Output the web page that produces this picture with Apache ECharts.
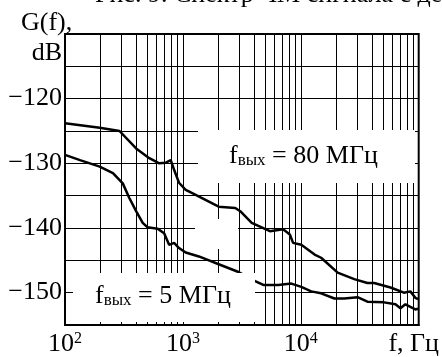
<!DOCTYPE html>
<html>
<head>
	<meta charset="UTF-8">
	<title>G(f)</title>
	<script src="https://cdn.jsdelivr.net/npm/echarts@6/dist/echarts.min.js"></script>
	<style>
		html, body { margin: 0; padding: 0; background: #fff; }
		#chart { width: 442px; height: 357px; }
	</style>
</head>
<body>
	<div id="chart"></div>

	<script type="text/javascript">
		// f_вых = 80 МГц (upper curve)
		var freq80 = [100, 197, 290, 401, 519, 630, 717, 789, 842, 927, 1056, 1200, 2012, 2780, 3064, 3834, 5472, 6430, 7080, 8070, 8600, 10100, 13090, 14870, 20540, 28400, 36730, 41860, 57700, 74800, 84960, 93600, 98700];
		var db80 = [-123.8, -124.5, -125.0, -127.7, -129.2, -130, -129.9, -129.5, -131, -133, -134.1, -134.6, -136.7, -136.9, -137.4, -139.2, -140.5, -140.3, -140.2, -141, -142.3, -142.6, -144.1, -144.6, -146.9, -147.9, -148.5, -148.5, -149.2, -150, -149.8, -150.8, -151];

		// f_вых = 5 МГц (lower curve)
		var freq5 = [100, 134, 197, 255, 309, 352, 401, 456, 502, 609, 693, 764, 842, 927, 1056, 1366, 2012, 2963, 4095, 4810, 6430, 8320, 10100, 12250, 14870, 19280, 23400, 30270, 36730, 50800, 63500, 70000, 77100, 84960, 93600, 98700];
		var db5 = [-128.7, -129.5, -130.5, -131.5, -133.1, -135.4, -137.4, -139.2, -139.9, -140.1, -140.8, -142.6, -142.3, -143.1, -143.8, -144.4, -145.6, -146.8, -148.2, -148.8, -148.8, -148.6, -149.1, -149.8, -150.1, -150.9, -150.9, -150.7, -151.4, -151.5, -151.8, -152.4, -151.8, -152.2, -152.6, -152.5];

		// log grid lines inside each decade
		var minorLines = [200, 300, 400, 500, 600, 700, 800, 900, 2000, 3000, 4000, 5000, 6000, 7000, 8000, 9000, 20000, 30000, 40000, 50000, 60000, 70000, 80000, 90000];

		// x tick labels: base, exponent (last one is the axis name)
		var xBase = ['10', '10', '10', 'f, Гц'];
		var xExp = ['2', '3', '4', ''];
		var yLabels = [-120, -130, -140, -150];

		var FONT = 'Liberation Serif';

		function pairs(xs, ys) {
			return xs.map(function (x, i) { return [x, ys[i]]; });
		}

		var chart = echarts.init(document.getElementById('chart'));

		var option = {
			animation: false,
			backgroundColor: '#fff',
			grid: {
				left: 65, top: 34, right: 21, bottom: 30,
				show: true, borderColor: '#000', borderWidth: 2
			},
			xAxis: {
				type: 'log',
				logBase: 10,
				min: 100,
				max: 100000,
				axisLine: { lineStyle: { color: '#000', width: 2 } },
				axisTick: { inside: true, length: 5, lineStyle: { color: '#000' } },
				splitLine: { show: true, lineStyle: { color: '#000', width: 1 } },
				axisLabel: {
					margin: 6,
					color: '#000',
					fontFamily: FONT,
					formatter: function (v) {
						var i = Math.round(Math.log10(v)) - 2;
						if (i === 3) return '{e|' + xBase[i] + '}';
						return '{n|' + xBase[i] + '}{s|' + xExp[i] + '}';
					},
					rich: {
						n: { fontSize: 26, fontFamily: FONT, color: '#000' },
						s: { fontSize: 16, fontFamily: FONT, color: '#000', verticalAlign: 'top' },
						e: { fontSize: 26, fontFamily: FONT, color: '#000', padding: [0, 10, 0, 0] }
					}
				}
			},
			yAxis: {
				type: 'value',
				min: -155,
				max: -110,
				interval: 5,
				axisLine: { show: true, lineStyle: { color: '#000', width: 2 } },
				axisTick: { show: true, inside: true, length: 7, lineStyle: { color: '#000' } },
				splitLine: { show: true, lineStyle: { color: '#000', width: 1 } },
				axisLabel: {
					margin: 3,
					color: '#000',
					fontSize: 26,
					fontFamily: FONT,
					formatter: function (v) {
						return yLabels.indexOf(v) >= 0 ? '\u2212' + Math.abs(v) : '';
					}
				}
			},
			series: [
				{
					type: 'line',
					data: [],
					z: 1,
					markLine: {
						silent: true,
						symbol: 'none',
						label: { show: false },
						lineStyle: { color: '#000', width: 1, type: 'solid' },
						data: minorLines.map(function (v) { return { xAxis: v }; })
					}
				},
				{
					name: '80',
					type: 'line',
					data: pairs(freq80, db80),
					showSymbol: false,
					lineStyle: { color: '#000', width: 2.5 },
					z: 3
				},
				{
					name: '5',
					type: 'line',
					data: pairs(freq5, db5),
					showSymbol: false,
					lineStyle: { color: '#000', width: 2.5 },
					z: 3
				}
			],
			graphic: [
				{ type: 'rect', z: 100, shape: { x: 198, y: 130, width: 217, height: 53 }, style: { fill: '#fff' } },
				{ type: 'rect', z: 100, shape: { x: 73, y: 273, width: 182, height: 49 }, style: { fill: '#fff' } },
				{ type: 'rect', z: 100, shape: { x: 195, y: 219, width: 43, height: 30 }, style: { fill: '#fff' } },
				{
					type: 'text', z: 101, x: 95, y: -5,
					style: { text: 'Рис. 9. Спектр ЧМ сигнала с делителем', font: '26px "Liberation Serif"', fill: '#000', verticalAlign: 'middle' }
				},
				{
					type: 'text', z: 101, x: 21, y: 23,
					style: { text: 'G(f),', font: '26px "Liberation Serif"', fill: '#000', verticalAlign: 'middle' }
				},
				{
					type: 'text', z: 101, x: 62, y: 53,
					style: { text: 'dB', font: '26px "Liberation Serif"', fill: '#000', align: 'right', verticalAlign: 'middle' }
				},
				{
					type: 'text', z: 101, x: 229, y: 156,
					style: {
						text: '{m|f}{s|вых}{m| = 80 МГц}',
						verticalAlign: 'middle',
						rich: {
							m: { fontSize: 26, fontFamily: FONT, fill: '#000' },
							s: { fontSize: 17, fontFamily: FONT, fill: '#000', verticalAlign: 'bottom', lineHeight: 14 }
						}
					}
				},
				{
					type: 'text', z: 101, x: 95, y: 296,
					style: {
						text: '{m|f}{s|вых}{m| = 5 МГц}',
						verticalAlign: 'middle',
						rich: {
							m: { fontSize: 26, fontFamily: FONT, fill: '#000' },
							s: { fontSize: 17, fontFamily: FONT, fill: '#000', verticalAlign: 'bottom', lineHeight: 14 }
						}
					}
				}
			]
		};

		chart.setOption(option);
	</script>
</body>
</html>
